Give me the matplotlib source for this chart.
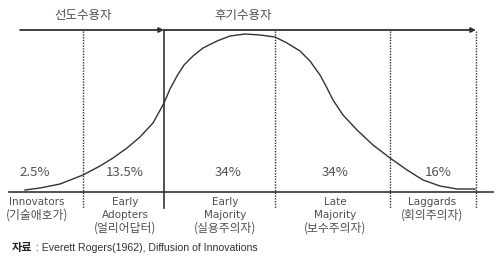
import matplotlib
matplotlib.use("Agg")
import matplotlib.pyplot as plt

plt.rcParams['font.family'] = ['DejaVu Sans', 'Noto Sans CJK KR']

# adoption curve (x, y in picture units, y grows downward)
curve_x = [25, 40, 60, 83, 100, 113, 127, 140, 153, 158, 164, 170, 177, 184, 193, 203, 217,
           230, 245, 260, 275, 287, 300, 310, 320, 327, 333, 343, 357, 373, 390, 407, 423,
           440, 457, 475]
curve_y = [190, 188, 184, 175, 166, 158, 148, 137, 123, 114, 103, 89, 76, 65, 56, 48, 41,
           36, 34, 35, 37, 43, 51, 61, 75, 88, 100, 115, 130, 145, 158, 170, 180,
           186, 189, 189]

# group boundaries
bounds = [83, 164, 275, 390, 476]
bound_solid = [False, True, False, False, False]

shares = ["2.5%", "13.5%", "34%", "34%", "16%"]
share_x = [35, 125, 228, 335, 438]
groups_en = [["Innovators"], ["Early", "Adopters"], ["Early", "Majority"],
             ["Late", "Majority"], ["Laggards"]]
groups_ko = ["(기술애호가)", "(얼리어답터)", "(실용주의자)", "(보수주의자)", "(회의주의자)"]
group_x = [37, 125, 225, 335, 432]

phases = ["선도수용자", "후기수용자"]
phase_x = [83, 243]

source = "Everett Rogers(1962), Diffusion of Innovations"

line_c = "#333333"
text_c = "#505050"

fig = plt.figure(figsize=(5, 2.65), dpi=100)
ax = fig.add_axes([0, 0, 1, 1])
ax.set_xlim(0, 500)
ax.set_ylim(265, 0)
ax.axis("off")

# top arrows
ax.annotate("", xy=(164, 30), xytext=(20, 30),
            arrowprops=dict(arrowstyle="-|>", color=line_c, lw=1.3, mutation_scale=7,
                            shrinkA=0, shrinkB=0))
ax.annotate("", xy=(476, 30), xytext=(164, 30),
            arrowprops=dict(arrowstyle="-|>", color=line_c, lw=1.3, mutation_scale=7,
                            shrinkA=0, shrinkB=0))

# baseline
ax.plot([9, 493], [192, 192], color=line_c, lw=1.2)

# boundaries
for bx, solid in zip(bounds, bound_solid):
    if solid:
        ax.plot([bx, bx], [30, 208], color=line_c, lw=1.2)
    else:
        ax.plot([bx, bx], [31, 208], color=line_c, lw=1.0, linestyle=(0, (1, 1)))

# curve
ax.plot(curve_x, curve_y, color=line_c, lw=1.0, solid_joinstyle="round")

for s, x in zip(shares, share_x):
    ax.text(x, 173, s, ha="center", va="center", fontsize=9.5, color=text_c,
            family=['Noto Sans CJK KR', 'DejaVu Sans'])

# group names: english lines then korean line
for en, ko, x in zip(groups_en, groups_ko, group_x):
    y = 202
    for line in en:
        ax.text(x, y, line, ha="center", va="center", fontsize=7.5, color=text_c)
        y += 13
    ax.text(x, y, ko, ha="center", va="center", fontsize=8.5, color=text_c,
            family=['Noto Sans CJK KR'])

for p, x in zip(phases, phase_x):
    ax.text(x, 15, p, ha="center", va="center", fontsize=9, color=text_c,
            family=['Noto Sans CJK KR'])

ax.text(12, 248, "자료", ha="left", va="center", fontsize=8, color="#222222",
        fontweight="bold", family=['Noto Sans CJK KR'])
ax.text(36, 248, ": " + source, ha="left", va="center", fontsize=7.6, color="#333333",
        family=['Liberation Sans'])

fig.savefig("out.png", dpi=100)
